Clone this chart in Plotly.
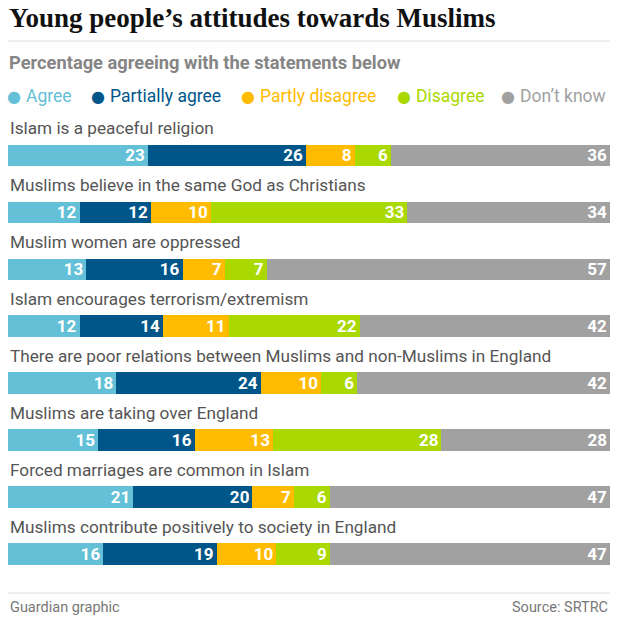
import plotly.graph_objects as go

statements = [
    "Islam is a peaceful religion",
    "Muslims believe in the same God as Christians",
    "Muslim women are oppressed",
    "Islam encourages terrorism/extremism",
    "There are poor relations between Muslims and non-Muslims in England",
    "Muslims are taking over England",
    "Forced marriages are common in Islam",
    "Muslims contribute positively to society in England",
]
agree = [23, 12, 13, 12, 18, 15, 21, 16]
partially_agree = [26, 12, 16, 14, 24, 16, 20, 19]
partly_disagree = [8, 10, 7, 11, 10, 13, 7, 10]
disagree = [6, 33, 7, 22, 6, 28, 6, 9]
dont_know = [36, 34, 57, 42, 42, 28, 47, 47]

series_names = ["Agree", "Partially agree", "Partly disagree", "Disagree", "Don\u2019t know"]
series_values = [agree, partially_agree, partly_disagree, disagree, dont_know]
series_colors = ["#63c0d7", "#005689", "#ffbb00", "#aad801", "#a1a1a1"]

W, H = 618, 624
T, B, L, R = 127, 31, 8, 8
PH = H - T - B

def py(p):
    return 1 - (p - T) / PH

def px(p):
    return (p - L) / (W - L - R)

SANS = "Roboto"
fig = go.Figure()
for name, vals, col in zip(series_names, series_values, series_colors):
    fig.add_trace(go.Bar(
        y=statements, x=vals, name=name, orientation="h",
        marker=dict(color=col, line=dict(width=0)),
        text=[str(v) for v in vals], textposition="inside",
        insidetextanchor="end", textangle=0,
        textfont=dict(color="white", size=17, family=SANS, weight="bold"),
        cliponaxis=False,
    ))

annotations = []
for s in statements:
    annotations.append(dict(
        x=0, y=s, xref="paper", yref="y", text=s, showarrow=False,
        xanchor="left", yanchor="middle", yshift=27,
        font=dict(size=17.2, color="#555555", family=SANS),
    ))

# title, subtitle
annotations.append(dict(x=px(7), y=py(18), xref="paper", yref="paper",
    text="<b>Young people\u2019s attitudes towards Muslims</b>", showarrow=False,
    xanchor="left", yanchor="middle",
    font=dict(size=27, color="#111111", family="Liberation Serif")))
annotations.append(dict(x=px(7), y=py(63), xref="paper", yref="paper",
    text="<b>Percentage agreeing with the statements below</b>", showarrow=False,
    xanchor="left", yanchor="middle",
    font=dict(size=18.3, color="#858585", family=SANS)))

legend_dot_x = [14, 98, 248, 404, 508]
for name, col, lx in zip(series_names, series_colors, legend_dot_x):
    annotations.append(dict(x=px(lx), y=py(96), xref="paper", yref="paper",
        text="\u25cf", showarrow=False, xanchor="center", yanchor="middle",
        font=dict(size=16, color=col, family="DejaVu Sans")))
    annotations.append(dict(x=px(lx + 10), y=py(96), xref="paper", yref="paper",
        text=name, showarrow=False, xanchor="left", yanchor="middle",
        font=dict(size=17.5, color=col, family=SANS)))

annotations.append(dict(x=px(8), y=py(607), xref="paper", yref="paper",
    text="Guardian graphic", showarrow=False, xanchor="left", yanchor="middle",
    font=dict(size=14.5, color="#777777", family=SANS)))
annotations.append(dict(x=px(610), y=py(607), xref="paper", yref="paper",
    text="Source: SRTRC", showarrow=False, xanchor="right", yanchor="middle",
    font=dict(size=14.5, color="#777777", family=SANS)))

shapes = [
    dict(type="line", xref="paper", yref="paper", x0=px(8), x1=px(610),
         y0=py(41), y1=py(41), line=dict(color="#dcdcdc", width=1)),
    dict(type="line", xref="paper", yref="paper", x0=px(8), x1=px(610),
         y0=py(593), y1=py(593), line=dict(color="#dcdcdc", width=1)),
]

fig.update_layout(
    width=W, height=H, margin=dict(l=L, r=R, t=T, b=B, pad=0),
    barmode="stack", barnorm="percent", bargap=0.62,
    paper_bgcolor="white", plot_bgcolor="white",
    showlegend=False,
    xaxis=dict(visible=False, range=[0, 100], fixedrange=True),
    yaxis=dict(visible=False, autorange="reversed", fixedrange=True),
    annotations=annotations, shapes=shapes,
    uniformtext=dict(mode="show", minsize=17),
    hovermode=False,
)
fig.write_html("out.html", config={"displayModeBar": False},
               post_script="document.body.style.margin='0';document.body.style.overflow='hidden';")
